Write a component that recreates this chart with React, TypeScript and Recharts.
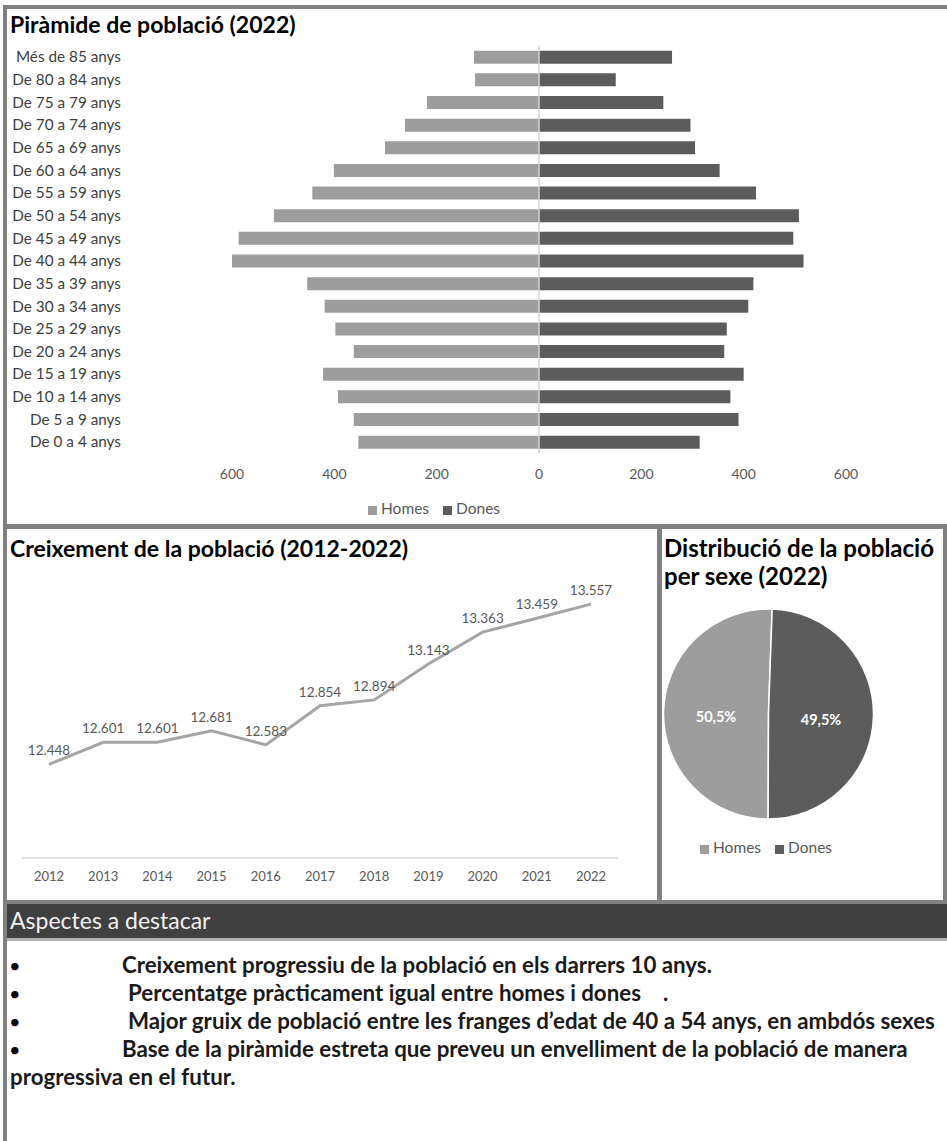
import React from "react";
import { BarChart, Bar, XAxis, YAxis, Legend, ReferenceLine, LineChart, Line, LabelList, PieChart, Pie } from "recharts";

// piràmide (valors llegits de la imatge)
const ageGroups = [
    "Més de 85 anys", "De 80 a 84 anys", "De 75 a 79 anys", "De 70 a 74 anys", "De 65 a 69 anys",
    "De 60 a 64 anys", "De 55 a 59 anys", "De 50 a 54 anys", "De 45 a 49 anys", "De 40 a 44 anys",
    "De 35 a 39 anys", "De 30 a 34 anys", "De 25 a 29 anys", "De 20 a 24 anys", "De 15 a 19 anys",
    "De 10 a 14 anys", "De 5 a 9 anys", "De 0 a 4 anys",
];
const homes = [127, 125, 219, 262, 301, 401, 443, 518, 587, 600, 453, 419, 398, 362, 422, 393, 362, 353];
const dones = [260, 150, 243, 296, 305, 353, 424, 508, 497, 517, 419, 409, 367, 362, 400, 374, 390, 314];
const pyramidTicks = [-600, -400, -200, 0, 200, 400, 600];

// creixement
const years = ["2012", "2013", "2014", "2015", "2016", "2017", "2018", "2019", "2020", "2021", "2022"];
const population = [12448, 12601, 12601, 12681, 12583, 12854, 12894, 13143, 13363, 13459, 13557];

// distribució per sexe
const sexLabels = ["Homes", "Dones"];
const sexShare = [50.5, 49.5];

const LIGHT = "#9d9d9d";
const DARK = "#5c5c5c";
const TEXT = "#595959";
const BORDER = "#808080";
const sexColors = [LIGHT, DARK];

const pyramidData = ageGroups.map((g, i) => ({ group: g, Homes: -homes[i], Dones: dones[i] }));
const lineData = years.map((y, i) => ({ year: y, value: population[i] }));
const pieData = sexLabels.map((s, i) => ({ name: s, value: sexShare[i], fill: sexColors[i] }));

const fmtThousands = (v: number) => `${Math.floor(v / 1000)}.${String(v % 1000).padStart(3, "0")}`;
const legendText = (value: string) => <span style={{ color: TEXT, marginRight: 4 }}>{value}</span>;
const legendOrder = (item: any) => sexLabels.indexOf(item.value);

const RAD = Math.PI / 180;
function PieLabel(props: any) {
    const { cx, cy, midAngle, outerRadius, value } = props;
    const r = outerRadius * 0.5;
    const x = cx + r * Math.cos(-midAngle * RAD);
    const y = cy + r * Math.sin(-midAngle * RAD) + 4;
    return (
        <text x={x} y={y} fill="#ffffff" fontSize={14.5} fontWeight={700} textAnchor="middle" dominantBaseline="central">
            {`${Number(value).toFixed(1).replace(".", ",")}%`}
        </text>
    );
}

const box = (left: number, top: number, width: number, height: number, bg: string) => (
    <div style={{ position: "absolute", left, top, width, height, background: bg }} />
);

const bullets = [
    { text: "Creixement progressiu de la població en els darrers 10 anys.", x: 122, y: 965 },
    { text: "Percentatge pràcticament igual entre homes i dones", x: 128, y: 993, tail: "." },
    { text: "Major gruix de població entre les franges d’edat de 40 a 54 anys, en ambdós sexes", x: 128, y: 1021 },
    { text: "Base de la piràmide estreta que preveu un envelliment de la població de manera", x: 122, y: 1049 },
];

const titleStyle: React.CSSProperties = { position: "absolute", fontSize: 23, fontWeight: 700, lineHeight: "28px", color: "#000", whiteSpace: "nowrap" };
const bodyStyle: React.CSSProperties = { position: "absolute", fontSize: 22.3, fontWeight: 700, lineHeight: "28px", color: "#1a1a1a", whiteSpace: "nowrap" };

export default function App() {
    return (
        <div style={{ position: "absolute", left: 0, top: 0, width: 947, height: 1141, background: "#fff", overflow: "hidden", fontFamily: "Lato, sans-serif" }}>
            {/* vores */}
            {box(4, 5, 943, 4, BORDER)}
            {box(3, 5, 4, 1136, BORDER)}
            {box(4, 524, 943, 5, BORDER)}
            {box(657, 524, 5, 380, BORDER)}
            {box(943, 524, 4, 380, BORDER)}
            {box(4, 900, 943, 4, BORDER)}
            {box(7, 904, 940, 34, "#404040")}
            {box(7, 938, 940, 3, "#b0b0b0")}

            <div style={{ ...titleStyle, left: 10, top: 10 }}>Piràmide de població (2022)</div>

            <div style={{ position: "absolute", left: 0, top: 40 }}>
                <BarChart
                    width={947}
                    height={485}
                    data={pyramidData}
                    layout="vertical"
                    stackOffset="sign"
                    margin={{ top: 5.7, right: 101, bottom: 41.7, left: 0 }}
                >
                    <XAxis
                        type="number"
                        domain={[-600, 600]}
                        ticks={pyramidTicks}
                        tickFormatter={(v: number) => String(Math.abs(v))}
                        axisLine={false}
                        tickLine={false}
                        tickSize={0}
                        tickMargin={16}
                        height={30}
                        tick={{ fill: TEXT, fontSize: 14 }}
                    />
                    <YAxis
                        type="category"
                        dataKey="group"
                        width={232}
                        axisLine={false}
                        tickLine={false}
                        tickSize={0}
                        tickMargin={111}
                        interval={0}
                        tick={{ fill: "#404040", fontSize: 15.3 }}
                    />
                    <ReferenceLine x={0} stroke="#d4d4d4" strokeWidth={1.5} />
                    <Bar dataKey="Homes" name="Homes" stackId="p" fill={LIGHT} barSize={13} isAnimationActive={false} />
                    <Bar dataKey="Dones" name="Dones" stackId="p" fill={DARK} barSize={13} isAnimationActive={false} />
                    <Legend
                        verticalAlign="middle"
                        align="center"
                        iconType="square"
                        iconSize={9}
                        formatter={legendText}
                        itemSorter={legendOrder}
                        wrapperStyle={{ left: 368, top: 459, width: "auto", fontSize: 15.5 }}
                    />
                </BarChart>
            </div>

            <div style={{ ...titleStyle, left: 10, top: 534 }}>Creixement de la població (2012-2022)</div>

            <div style={{ position: "absolute", left: 0, top: 530 }}>
                <LineChart width={660} height={370} data={lineData} margin={{ top: 39, right: 42, left: 22, bottom: 12 }}>
                    <XAxis
                        dataKey="year"
                        padding={{ left: 27, right: 27 }}
                        axisLine={{ stroke: "#d9d9d9", strokeWidth: 1.5 }}
                        tickLine={false}
                        tickSize={0}
                        tickMargin={13.5}
                        height={30}
                        interval={0}
                        tick={{ fill: TEXT, fontSize: 13 }}
                    />
                    <YAxis hide domain={[11800, 13800]} />
                    <Line type="linear" dataKey="value" stroke="#a5a5a5" strokeWidth={3} dot={false} isAnimationActive={false}>
                        <LabelList dataKey="value" position="top" offset={9} fill={TEXT} fontSize={13.5} formatter={(v: any) => fmtThousands(Number(v))} />
                    </Line>
                </LineChart>
            </div>

            <div style={{ ...titleStyle, left: 664, top: 534, fontSize: 24 }}>
                Distribució de la població
                <br />
                per sexe (2022)
            </div>

            <div style={{ position: "absolute", left: 662, top: 530 }}>
                <PieChart width={285} height={370}>
                    <Pie
                        data={pieData}
                        dataKey="value"
                        nameKey="name"
                        cx={101.5}
                        cy={179}
                        outerRadius={105}
                        startAngle={88}
                        endAngle={448}
                        stroke="#ffffff"
                        strokeWidth={1.5}
                        label={PieLabel}
                        labelLine={false}
                        isAnimationActive={false}
                    />
                    <Legend
                        verticalAlign="middle"
                        align="center"
                        iconType="square"
                        iconSize={9}
                        formatter={legendText}
                        itemSorter={legendOrder}
                        wrapperStyle={{ left: 38, top: 308, width: "auto", fontSize: 15.5 }}
                    />
                </PieChart>
            </div>

            <div style={{ position: "absolute", left: 10, top: 905, fontSize: 23, lineHeight: "30px", color: "#f0f0f0", whiteSpace: "nowrap" }}>
                Aspectes a destacar
            </div>

            {bullets.map((b) => (
                <React.Fragment key={b.y}>
                    <div style={{ position: "absolute", left: 9, top: b.y - 14, fontSize: 20, lineHeight: "28px", color: "#000" }}>•</div>
                    <div style={{ ...bodyStyle, left: b.x, top: b.y - 14 }}>
                        {b.text}
                        {b.tail ? <span style={{ marginLeft: 22 }}>{b.tail}</span> : null}
                    </div>
                </React.Fragment>
            ))}
            <div style={{ ...bodyStyle, left: 10, top: 1063 }}>progressiva en el futur.</div>
        </div>
    );
}
